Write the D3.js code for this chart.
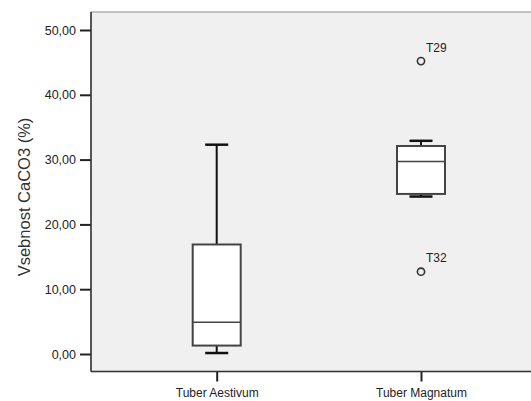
<!DOCTYPE html>
<html>
<head>
<meta charset="utf-8">
<script src="https://cdn.jsdelivr.net/npm/d3@7"></script>
<style>
  body { margin: 0; background: #fff; overflow: hidden; }
  text { font-family: Arial, "Liberation Sans", sans-serif; }
</style>
</head>
<body>
<div id="chart"></div>
<script>
// data
var categories = ["Tuber Aestivum", "Tuber Magnatum"]
var whiskerLow = [0.15, 24.3]
var q1 = [1.3, 24.7]
var median = [4.9, 29.7]
var q3 = [16.9, 32.1]
var whiskerHigh = [32.3, 32.9]
var outliers = [
  {cat: "Tuber Magnatum", value: 45.2, label: "T29"},
  {cat: "Tuber Magnatum", value: 12.7, label: "T32"}
]
var yTicks = [0, 10, 20, 30, 40, 50]

var width = 531, height = 401
var plot = {left: 91, top: 12, right: 545, bottom: 371.5}

var svg = d3.select("#chart").append("svg")
    .attr("width", width).attr("height", height)
    .style("display", "block")

var y = d3.scaleLinear().domain([0, 50]).range([354, 30])
var x = d3.scalePoint().domain(categories).range([216.7, 421])

var boxW = 48, capW = 23

// plot background
svg.append("rect")
    .attr("x", plot.left).attr("y", plot.top)
    .attr("width", plot.right - plot.left)
    .attr("height", plot.bottom - plot.top)
    .style("fill", "#f0f0f0")
    .style("stroke", "#a0a0a0").style("stroke-width", 1.2)

// y axis
var yAxis = svg.append("g")
    .attr("transform", "translate(" + plot.left + ",0)")
    .call(d3.axisLeft(y).tickValues(yTicks).tickSize(11).tickPadding(4)
        .tickFormat(function(d){ return d3.format(".2f")(d).replace(".", ",") }))
yAxis.select(".domain").remove()
yAxis.selectAll(".tick line").style("stroke", "#222").style("stroke-width", 2)
yAxis.selectAll(".tick text").style("font-size", "12.5px").style("fill", "#222")

// x axis
var xAxis = svg.append("g")
    .attr("transform", "translate(0," + plot.bottom + ")")
    .call(d3.axisBottom(x).tickSize(10).tickPadding(7))
xAxis.select(".domain").remove()
xAxis.selectAll(".tick line").style("stroke", "#222").style("stroke-width", 2)
xAxis.selectAll(".tick text").style("font-size", "12px").style("fill", "#222")

// axis lines
svg.append("line")
    .attr("x1", plot.left).attr("x2", plot.left)
    .attr("y1", plot.top).attr("y2", plot.bottom)
    .style("stroke", "#333").style("stroke-width", 1.5)
svg.append("line")
    .attr("x1", plot.left).attr("x2", width)
    .attr("y1", plot.bottom).attr("y2", plot.bottom)
    .style("stroke", "#333").style("stroke-width", 1.5)

// y label
svg.append("text")
    .attr("transform", "translate(30,197) rotate(-90)")
    .attr("text-anchor", "middle")
    .style("font-size", "16.5px").style("fill", "#333")
    .text("Vsebnost CaCO3 (%)")

// boxes
var boxes = svg.append("g")
categories.forEach(function(c, i){
    var cx = x(c)
    var g = boxes.append("g")
    // whiskers
    g.append("line")
        .attr("x1", cx).attr("x2", cx)
        .attr("y1", y(q3[i])).attr("y2", y(whiskerHigh[i]))
        .style("stroke", "#111").style("stroke-width", 2)
    g.append("line")
        .attr("x1", cx).attr("x2", cx)
        .attr("y1", y(q1[i])).attr("y2", y(whiskerLow[i]))
        .style("stroke", "#111").style("stroke-width", 2)
    g.append("line")
        .attr("x1", cx - capW / 2).attr("x2", cx + capW / 2)
        .attr("y1", y(whiskerHigh[i])).attr("y2", y(whiskerHigh[i]))
        .style("stroke", "#111").style("stroke-width", 2.5)
    g.append("line")
        .attr("x1", cx - capW / 2).attr("x2", cx + capW / 2)
        .attr("y1", y(whiskerLow[i])).attr("y2", y(whiskerLow[i]))
        .style("stroke", "#111").style("stroke-width", 2.5)
    // box
    g.append("rect")
        .attr("x", cx - boxW / 2).attr("y", y(q3[i]))
        .attr("width", boxW).attr("height", y(q1[i]) - y(q3[i]))
        .style("fill", "#fff")
        .style("stroke", "#444").style("stroke-width", 2)
    g.append("line")
        .attr("x1", cx - boxW / 2).attr("x2", cx + boxW / 2)
        .attr("y1", y(median[i])).attr("y2", y(median[i]))
        .style("stroke", "#444").style("stroke-width", 1.5)
})

// outliers
var out = svg.append("g").selectAll("g").data(outliers).enter().append("g")
out.append("circle")
    .attr("cx", function(d){ return x(d.cat) })
    .attr("cy", function(d){ return y(d.value) })
    .attr("r", 3.6)
    .style("fill", "none")
    .style("stroke", "#333").style("stroke-width", 1.6)
out.append("text")
    .attr("x", function(d){ return x(d.cat) + 5 })
    .attr("y", function(d){ return y(d.value) - 9.5 })
    .style("font-size", "12px").style("fill", "#222")
    .text(function(d){ return d.label })
</script>
</body>
</html>
